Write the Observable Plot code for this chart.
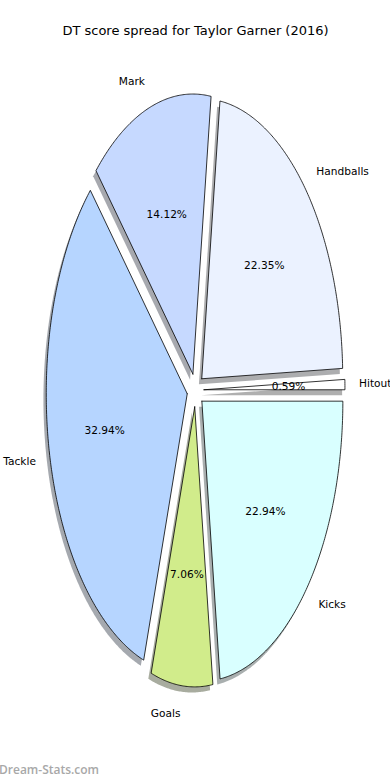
<!DOCTYPE html>
<html>
<head>
<meta charset="utf-8">
<script src="https://cdn.jsdelivr.net/npm/d3@7"></script>
<script src="https://cdn.jsdelivr.net/npm/@observablehq/plot@0.6"></script>
<style>
  html, body { margin: 0; padding: 0; background: #fff; }
  #chart { position: relative; width: 390px; height: 780px; }
  #wm { position: absolute; left: -1px; top: 761px; font-family: "Open Sans", "DejaVu Sans", sans-serif; font-weight: 600; font-size: 12px; color: #a8a8a8; }
</style>
</head>
<body>
<div id="chart"></div>
<script>
const title = "DT score spread for Taylor Garner (2016)";
const categories = ["Hitout", "Handballs", "Mark", "Tackle", "Goals", "Kicks"];
const values = [0.59, 22.35, 14.12, 32.94, 7.06, 22.94];
const colors = ["#ffffff", "#ebf2ff", "#c6d9ff", "#b6d5ff", "#d1ec8b", "#d9ffff"];
const explode = 0.06;
const shadowOffset = [-0.02, -0.02];
const watermark = "Dream-Stats.com";

const total = d3.sum(values);
let acc = 0;
const slices = categories.map((name, i) => {
  const a0 = acc / total * 2 * Math.PI;
  acc += values[i];
  const a1 = acc / total * 2 * Math.PI;
  const am = (a0 + a1) / 2;
  const cx = explode * Math.cos(am), cy = explode * Math.sin(am);
  return {name, value: values[i], color: colors[i], a0, a1, am, cx, cy};
});

function polygon(s, dx, dy) {
  const pts = [{x: s.cx + dx, y: s.cy + dy}];
  const n = Math.max(4, Math.ceil((s.a1 - s.a0) / (Math.PI / 360)));
  for (let k = 0; k <= n; k++) {
    const a = s.a0 + (s.a1 - s.a0) * k / n;
    pts.push({x: s.cx + dx + Math.cos(a), y: s.cy + dy + Math.sin(a)});
  }
  pts.push({x: s.cx + dx, y: s.cy + dy});
  return pts;
}

function darken(c) {
  const r = d3.rgb(c);
  return d3.rgb(r.r * 0.3, r.g * 0.3, r.b * 0.3).formatHex();
}

const marks = [];
slices.forEach(s => {
  marks.push(Plot.line(polygon(s, shadowOffset[0], shadowOffset[1]), {
    x: "x", y: "y", fill: darken(s.color), fillOpacity: 0.45, stroke: "none", curve: "linear"
  }));
});
slices.forEach(s => {
  marks.push(Plot.line(polygon(s, 0, 0), {
    x: "x", y: "y", fill: s.color, stroke: "#000", strokeWidth: 0.8, strokeLinejoin: "miter", curve: "linear"
  }));
});

const labelData = slices.map(s => ({
  name: s.name,
  x: s.cx + 1.1 * Math.cos(s.am),
  y: s.cy + 1.1 * Math.sin(s.am),
  anchor: Math.cos(s.am) > 0 ? "start" : "end"
}));
const pctData = slices.map(s => ({
  pct: (s.value / total * 100).toFixed(2) + "%",
  x: s.cx + 0.6 * Math.cos(s.am),
  y: s.cy + 0.6 * Math.sin(s.am)
}));

marks.push(Plot.text(labelData.filter(d => d.anchor === "start"), {
  x: "x", y: "y", text: "name", textAnchor: "start", fontSize: 10.6, fill: "#000"
}));
marks.push(Plot.text(labelData.filter(d => d.anchor === "end"), {
  x: "x", y: "y", text: "name", textAnchor: "end", fontSize: 10.6, fill: "#000"
}));
marks.push(Plot.text(pctData, {
  x: "x", y: "y", text: "pct", fontSize: 10.6, fill: "#000"
}));
marks.push(Plot.text([title], {
  frameAnchor: "top", dy: 30, lineAnchor: "middle", text: d => d, fontSize: 13, fill: "#000"
}));

const chart = Plot.plot({
  width: 390,
  height: 780,
  margin: 0,
  style: {fontFamily: "DejaVu Sans", background: "#fff", overflow: "visible"},
  x: {domain: [-1.383, 1.383], axis: null},
  y: {domain: [-1.394, 1.391], axis: null},
  marks
});
document.getElementById("chart").appendChild(chart);
const wm = document.createElement("div");
wm.id = "wm";
wm.textContent = watermark;
document.getElementById("chart").appendChild(wm);
</script>
</body>
</html>
